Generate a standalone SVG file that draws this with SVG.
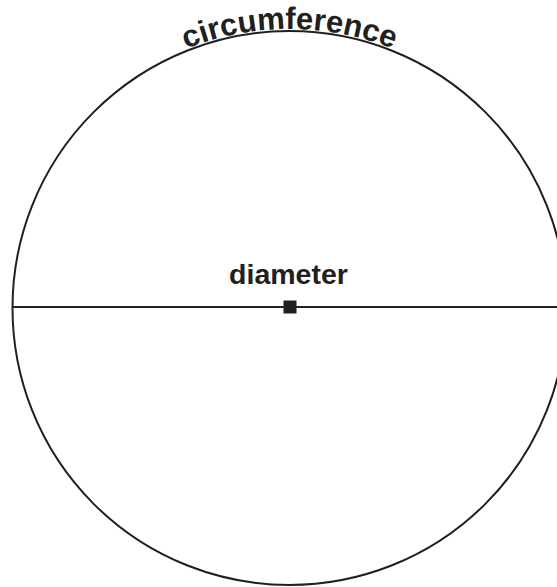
<svg xmlns="http://www.w3.org/2000/svg" width="557" height="587" viewBox="0 0 557 587">
<style>
.stroke{fill:none;stroke:#231f20;stroke-width:2}
.lbl{font-family:"Liberation Sans",Arial,sans-serif;font-weight:bold;fill:#231f20}
</style>
<defs>
<path id="arc" d="M 10.5 308 A 279 279 0 0 1 568.5 308"/>
</defs>
<rect width="557" height="587" fill="#ffffff"/>
<g id="circle">
<circle class="stroke" cx="289.5" cy="308" r="277"/>
</g>
<g id="connectors">
<line class="stroke" x1="12" y1="307" x2="557" y2="307"/>
</g>
<g id="center">
<rect x="283.5" y="300.5" width="13" height="13" fill="#231f20"/>
</g>
<g id="label-diameter">
<text class="lbl" x="288.5" y="284" font-size="28.5" text-anchor="middle">diameter</text>
</g>
<g id="label-circumference">
<text class="lbl" font-size="31" text-anchor="middle"><textPath href="#arc" startOffset="50%">circumference</textPath></text>
</g>
</svg>
